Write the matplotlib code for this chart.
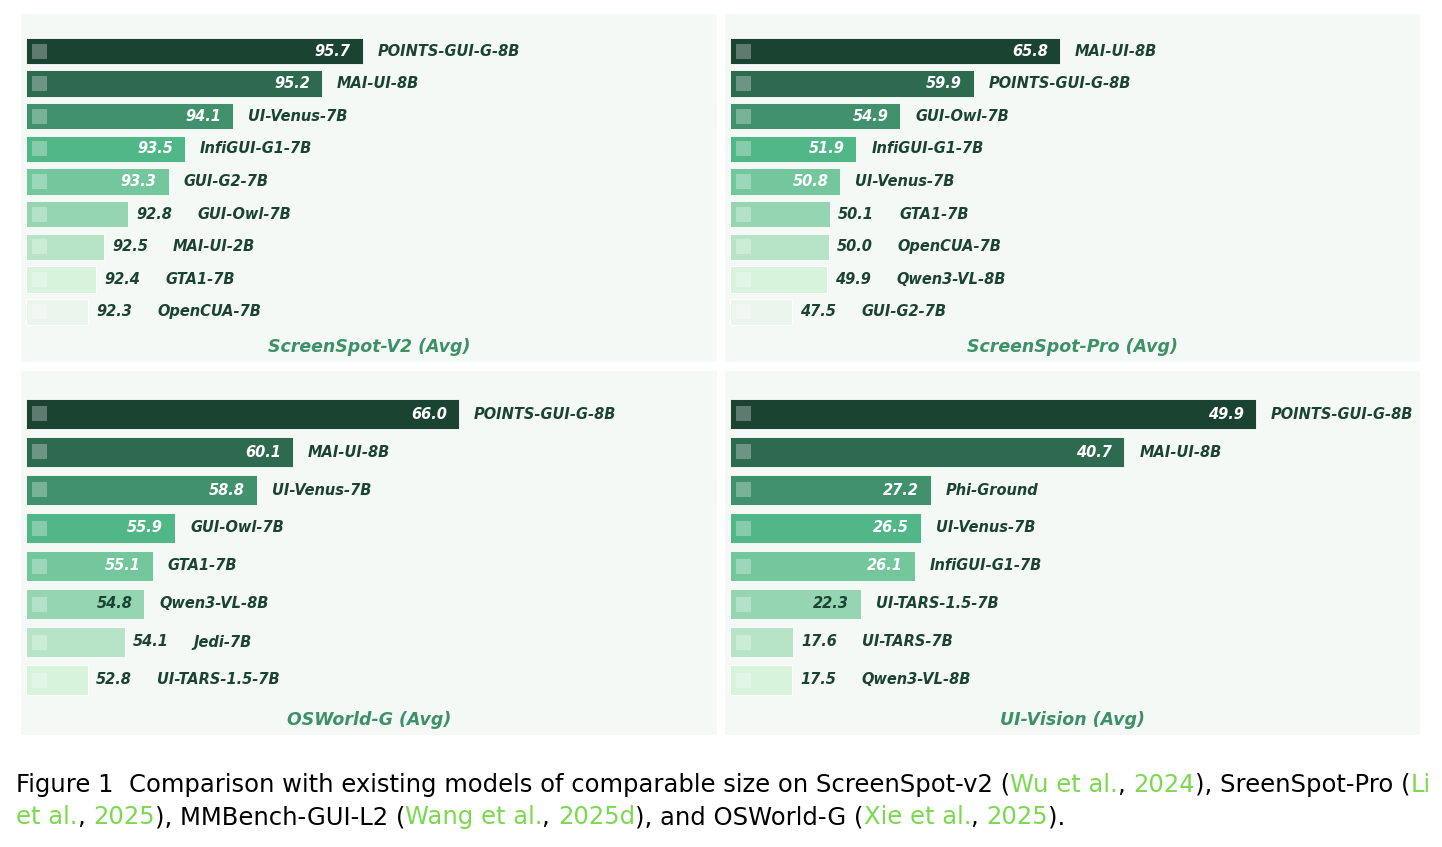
import matplotlib.pyplot as plt
from matplotlib.patches import Rectangle

# --- data -------------------------------------------------------------
titles = ["ScreenSpot-V2 (Avg)", "ScreenSpot-Pro (Avg)", "OSWorld-G (Avg)", "UI-Vision (Avg)"]

ss_v2_names = ["POINTS-GUI-G-8B", "MAI-UI-8B", "UI-Venus-7B", "InfiGUI-G1-7B", "GUI-G2-7B",
               "GUI-Owl-7B", "MAI-UI-2B", "GTA1-7B", "OpenCUA-7B"]
ss_v2_vals = [95.7, 95.2, 94.1, 93.5, 93.3, 92.8, 92.5, 92.4, 92.3]

ss_pro_names = ["MAI-UI-8B", "POINTS-GUI-G-8B", "GUI-Owl-7B", "InfiGUI-G1-7B", "UI-Venus-7B",
                "GTA1-7B", "OpenCUA-7B", "Qwen3-VL-8B", "GUI-G2-7B"]
ss_pro_vals = [65.8, 59.9, 54.9, 51.9, 50.8, 50.1, 50.0, 49.9, 47.5]

osw_names = ["POINTS-GUI-G-8B", "MAI-UI-8B", "UI-Venus-7B", "GUI-Owl-7B", "GTA1-7B",
             "Qwen3-VL-8B", "Jedi-7B", "UI-TARS-1.5-7B"]
osw_vals = [66.0, 60.1, 58.8, 55.9, 55.1, 54.8, 54.1, 52.8]

uiv_names = ["POINTS-GUI-G-8B", "MAI-UI-8B", "Phi-Ground", "UI-Venus-7B", "InfiGUI-G1-7B",
             "UI-TARS-1.5-7B", "UI-TARS-7B", "Qwen3-VL-8B"]
uiv_vals = [49.9, 40.7, 27.2, 26.5, 26.1, 22.3, 17.6, 17.5]

# axis baseline (where bars start) and x range of each panel
baselines = [91.53, 43.26, 50.59, 13.17]
xlims = [(91.47, 100.09), (42.92, 90.39), (50.41, 75.20), (12.82, 61.35)]

palette = ["#1b4332", "#2d6a4f", "#40916c", "#52b788", "#74c69d",
           "#95d5b2", "#b7e4c7", "#d8f3dc", "#ebf5ee"]
text_dark = "#1b4332"
title_col = "#3d9068"
panel_bg = "#f4f9f6"

W, H = 1442, 847
fig = plt.figure(figsize=(W / 100, H / 100), dpi=100)

# panel boxes in pixels: (x0, y0, x1, y1), y from top
boxes = [(21, 14, 717, 362), (725, 14, 1420, 362),
         (21, 371, 717, 735), (725, 371, 1420, 735)]
top_pad = [37, 37, 43, 43]
bot_pad = [50, 50, 55, 55]

panels = [(ss_v2_names, ss_v2_vals), (ss_pro_names, ss_pro_vals),
          (osw_names, osw_vals), (uiv_names, uiv_vals)]

lbl = dict(fontsize=10.5, fontweight="bold", fontstyle="italic", va="center")

for k, (names, vals) in enumerate(panels):
    x0, y0, x1, y1 = boxes[k]
    ax = fig.add_axes([x0 / W, 1 - y1 / H, (x1 - x0) / W, (y1 - y0) / H])
    ax.set_facecolor(panel_bg)
    for s in ax.spines.values():
        s.set_visible(False)
    ax.set_xticks([])
    ax.set_yticks([])

    n = len(vals)
    step = 32.6 if n == 9 else 38.0
    ax.set_ylim(n - 1 + bot_pad[k] / step, -top_pad[k] / step)
    lo, hi = xlims[k]
    ax.set_xlim(lo, hi)
    base = baselines[k]
    span = hi - lo
    px = span / (x1 - x0)  # data units per pixel

    ax.barh(range(n), [v - base for v in vals], left=base, height=0.81,
            color=palette[:n], edgecolor="white", linewidth=0.6)

    sq_h = 15 / step
    for i, v in enumerate(vals):
        ax.add_patch(Rectangle((base + 6 * px, i - sq_h / 2), 15 * px, sq_h,
                               facecolor="white", alpha=0.3, edgecolor="none"))
        width_frac = (v - base) / span
        if i < 5:
            ax.text(v - 12 * px, i, f"{v:.1f}", ha="right", color="white", **lbl)
            ax.text(v + 15 * px, i, names[i], ha="left", color=text_dark, **lbl)
        elif width_frac > 0.16:
            ax.text(v - 12 * px, i, f"{v:.1f}", ha="right", color=text_dark, **lbl)
            ax.text(v + 15 * px, i, names[i], ha="left", color=text_dark, **lbl)
        else:
            ax.text(v + 8 * px, i, f"{v:.1f}", ha="left", color=text_dark, **lbl)
            ax.text(v + 69 * px, i, names[i], ha="left", color=text_dark, **lbl)

    # title near the bottom of the panel
    ax.text(0.5, 15 / (y1 - y0), titles[k], transform=ax.transAxes,
            ha="center", va="center", color=title_col, fontsize=12.5,
            fontweight="bold", fontstyle="italic")

# --- caption with coloured citations -----------------------------------
cite = "#7ad94e"
line1 = [("Figure 1  Comparison with existing models of comparable size on ScreenSpot-v2 (", "black"),
         ("Wu et al.", cite), (", ", "black"), ("2024", cite),
         ("), SreenSpot-Pro (", "black"), ("Li", cite)]
line2 = [("et al.", cite), (", ", "black"), ("2025", cite), ("), MMBench-GUI-L2 (", "black"),
         ("Wang et al.", cite), (", ", "black"), ("2025d", cite), ("), and OSWorld-G (", "black"),
         ("Xie et al.", cite), (", ", "black"), ("2025", cite), (").", "black")]

cap_font = dict(fontsize=17.5, family="DejaVu Sans")
for line, ypix in [(line1, 785), (line2, 817)]:
    last = None
    for txt, col in line:
        if last is None:
            last = fig.text(16 / W, 1 - ypix / H, txt, color=col, ha="left", va="center", **cap_font)
        else:
            last = fig.add_artist(plt.Annotation(txt, xy=(1, 0.5), xycoords=last, va="center",
                                                 ha="left", color=col, annotation_clip=False,
                                                 **cap_font))

fig.savefig("out.png", dpi=100, facecolor="white")
